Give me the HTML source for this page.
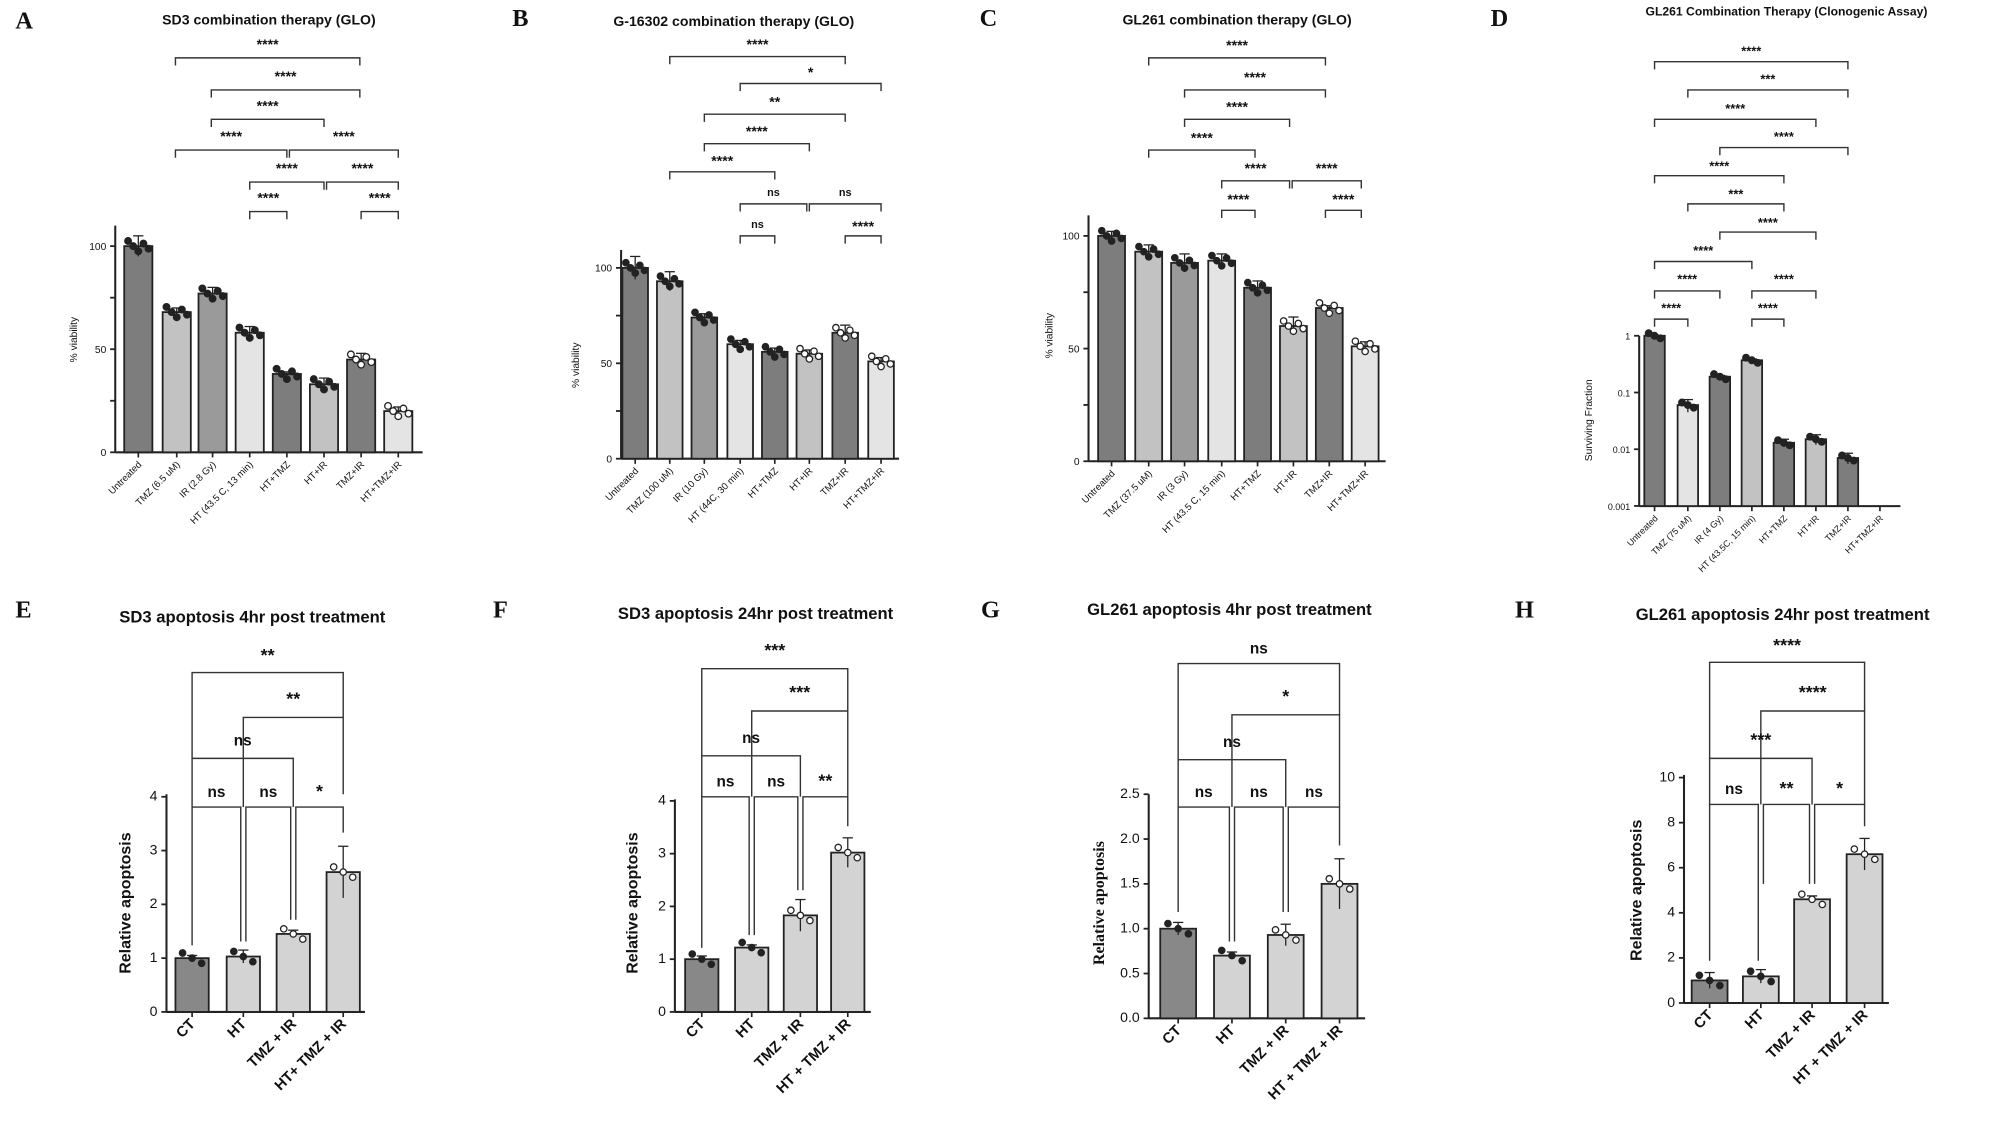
<!DOCTYPE html>
<html><head><meta charset="utf-8"><style>
html,body{margin:0;padding:0;background:#fff;}
svg{display:block;}
text{font-family:"Liberation Sans",Arial,sans-serif;fill:#111;}
.lab{font-family:"Liberation Serif",serif;font-weight:bold;font-size:19px;}
</style></head><body>
<svg id="s" width="2008" height="1130" viewBox="0 0 1568 882" xmlns="http://www.w3.org/2000/svg">
<rect width="1568" height="882" fill="#fff"/>
<text class="lab" x="12" y="22">A</text>
<text class="lab" x="400" y="20">B</text>
<text class="lab" x="765" y="20">C</text>
<text class="lab" x="1164" y="20">D</text>
<text class="lab" x="12" y="482">E</text>
<text class="lab" x="385" y="482">F</text>
<text class="lab" x="766" y="482">G</text>
<text class="lab" x="1183" y="482">H</text>
<text x="210" y="19" font-size="11" font-weight="bold" text-anchor="middle">SD3 combination therapy (GLO)</text>
<text x="573" y="20" font-size="11" font-weight="bold" text-anchor="middle">G-16302 combination therapy (GLO)</text>
<text x="966" y="19" font-size="11" font-weight="bold" text-anchor="middle">GL261 combination therapy (GLO)</text>
<text x="1395" y="12" font-size="9.5" font-weight="bold" text-anchor="middle">GL261 Combination Therapy (Clonogenic Assay)</text>
<text x="197" y="486" font-size="13" font-weight="bold" text-anchor="middle">SD3 apoptosis 4hr post treatment</text>
<text x="590" y="483" font-size="13" font-weight="bold" text-anchor="middle">SD3 apoptosis 24hr post treatment</text>
<text x="960" y="480" font-size="13" font-weight="bold" text-anchor="middle">GL261 apoptosis 4hr post treatment</text>
<text x="1392" y="484" font-size="13" font-weight="bold" text-anchor="middle">GL261 apoptosis 24hr post treatment</text>
<g id="g"></g>
</svg>
<script>
var g=document.getElementById('g'),out='';
function L(x1,y1,x2,y2,w){out+='<line x1="'+x1+'" y1="'+y1+'" x2="'+x2+'" y2="'+y2+'" stroke="#222" stroke-width="'+(w||1.2)+'"/>';}
function T(x,y,s,fs,anch,extra){out+='<text x="'+x+'" y="'+y+'" font-size="'+fs+'" text-anchor="'+(anch||'middle')+'" '+(extra||'')+'>'+s+'</text>';}
function br(x1,x2,y,s,fs,drop,ty,drop2){drop=drop||7;var d2=(drop2===undefined)?drop:drop2;out+='<path d="M'+x1+' '+(y+drop)+'V'+y+'H'+x2+'V'+(y+d2)+'" fill="none" stroke="#333" stroke-width="1.1"/>';T((x1+x2)/2,ty||(y-3),s,fs,'middle','font-weight="bold"');}
function panel(o){
 L(o.ax,o.yTop,o.ax,o.y0,1.6);L(o.ax,o.y0,o.xEnd,o.y0,1.6);
 o.ticks.forEach(function(t){var y=o.ymap(t[0]);L(o.ax-4,y,o.ax,y,1.4);if(t[1]!=='')T(o.ax-7,y+3,t[1],o.tfs,'end');});
 o.bars.forEach(function(b,i){var x=o.cx[i];L(x,o.y0,x,o.y0+4,1.3);
  if(b[0]!==null){var yt=o.ymap(b[0]);out+='<rect x="'+(x-o.bw/2)+'" y="'+yt+'" width="'+o.bw+'" height="'+(o.y0-yt)+'" fill="'+b[1]+'" stroke="#222" stroke-width="1.4"/>';
   var e=b[2]||0;if(e){var ye=o.ymap(b[0]+e),yl=o.ymap(Math.max(b[0]-e,0.0011));L(x,ye,x,yl,1);L(x-4,ye,x+4,ye,1);}
   for(var k=0;k<(o.np||5);k++){var dx=(k-(o.np||5)/2+0.5)*o.bw/((o.np||5)+0.5);var dy=((k*7)%5-2)*o.jit;out+='<circle cx="'+(x+dx)+'" cy="'+(yt+dy)+'" r="'+o.pr+'" fill="'+(b[3]||'#222')+'" stroke="#222" stroke-width="1"/>';}
  }
  var lab=o.labels[i];out+='<text x="'+(x+3)+'" y="'+(o.y0+10)+'" font-size="'+o.lfs+'" text-anchor="end" transform="rotate(-45 '+(x+3)+' '+(o.y0+10)+')" '+(o.lw||'')+'>'+lab+'</text>';
 });
 out+='<text x="'+o.ylx+'" y="'+o.yly+'" font-size="'+o.ylfs+'" text-anchor="middle" transform="rotate(-90 '+o.ylx+' '+o.yly+')" '+(o.ylst||'')+'>'+o.ylab+'</text>';
}
var D='#7d7d7d',M='#9a9a9a',Lt='#c2c2c2',VL='#e4e4e4';
function lin(y0,per){return function(v){return y0-v*per;};}
// A
var mA=lin(353,1.61);
panel({ax:90,yTop:176,y0:353,xEnd:330,ymap:mA,ticks:[[0,'0'],[25,''],[50,'50'],[75,''],[100,'100']],tfs:8,bw:22,
 cx:[108,138,166,195,224,253,282,311],bars:[[100,D,5],[68,Lt,2],[77,M,3],[58,VL,3],[38,D,1],[33,Lt,3],[45,D,3,'#fff'],[20,VL,2,'#fff']],
 labels:['Untreated','TMZ (6.5 uM)','IR (2.8 Gy)','HT (43.5 C, 13 min)','HT+TMZ','HT+IR','TMZ+IR','HT+TMZ+IR'],lfs:7.5,pr:2.6,jit:2,
 ylx:60,yly:265,ylfs:8,ylab:'% viability'});
br(137,281,45,'****',11,6,38);br(165,281,70,'****',11,6,63);br(165,253,93,'****',11,6,86);
br(137,224,117,'****',11,6,110);br(226,311,117,'****',11,6,110);
br(195,253,142,'****',11,6,135);br(255,311,142,'****',11,6,135);
br(195,224,165,'****',11,6,158);br(282,311,165,'****',11,6,158);
// B
var mB=lin(358,1.49);
panel({ax:485,yTop:195,y0:358,xEnd:702,ymap:mB,ticks:[[0,'0'],[25,''],[50,'50'],[75,''],[100,'100']],tfs:8,bw:20,
 cx:[496,523,550,578,605,632,660,688],bars:[[100,D,6],[93,Lt,5],[74,M,2],[60,VL,2],[56,D,2],[55,Lt,2,'#fff'],[66,D,4,'#fff'],[51,VL,2,'#fff']],
 labels:['Untreated','TMZ (100 uM)','IR (10 Gy)','HT (44C, 30 min)','HT+TMZ','HT+IR','TMZ+IR','HT+TMZ+IR'],lfs:7.5,pr:2.5,jit:2,
 ylx:452,yly:285,ylfs:8,ylab:'% viability'});
br(523,660,44,'****',11,6,38);br(578,688,65,'*',11,6,60);br(550,660,89,'**',11,6,83);br(550,632,112,'****',11,6,106);
br(523,605,134,'****',11,6,129);br(578,630,159,'ns',8.5,6,153);br(632,688,159,'ns',8.5,6,153);
br(578,605,184,'ns',8.5,6,178);br(660,688,184,'****',11,6,180);
// C
var mC=lin(360,1.76);
panel({ax:850,yTop:168,y0:360,xEnd:1082,ymap:mC,ticks:[[0,'0'],[25,''],[50,'50'],[75,''],[100,'100']],tfs:8,bw:21,
 cx:[868,897,925,954,982,1010,1038,1066],bars:[[100,D,2],[93,Lt,3],[88,M,4],[89,VL,3],[77,D,3],[60,Lt,4,'#fff'],[68,D,1,'#fff'],[51,VL,2,'#fff']],
 labels:['Untreated','TMZ (37.5 uM)','IR (3 Gy)','HT (43.5 C, 15 min)','HT+TMZ','HT+IR','TMZ+IR','HT+TMZ+IR'],lfs:7.5,pr:2.5,jit:2,
 ylx:822,yly:262,ylfs:8,ylab:'% viability'});
br(897,1035,45,'****',11,6,39);br(925,1035,70,'****',11,6,64);br(925,1007,93,'****',11,6,87);br(897,980,117,'****',11,6,111);
br(954,1007,141,'****',11,6,135);br(1009,1063,141,'****',11,6,135);br(954,980,164,'****',11,6,159);br(1035,1063,164,'****',11,6,159);
// D log
var mD=function(v){return 262-Math.log10(v)*44.3;};
panel({ax:1280,yTop:262,y0:395,xEnd:1484,ymap:mD,ticks:[[1,'1'],[0.1,'0.1'],[0.01,'0.01'],[0.001,'0.001']],tfs:7,bw:16,np:3,
 cx:[1292,1318,1343,1368,1393,1418,1443,1468],bars:[[1,D,0.02],[0.06,VL,0.015],[0.19,D,0.01],[0.37,Lt,0.02],[0.013,D,0.002],[0.015,Lt,0.003],[0.007,D,0.0015],[null,D]],
 labels:['Untreated','TMZ (75 uM)','IR (4 Gy)','HT (43.5C, 15 min)','HT+TMZ','HT+IR','TMZ+IR','HT+TMZ+IR'],lfs:7,pr:2.6,jit:1,
 ylx:1243,yly:328,ylfs:8,ylab:'Surviving Fraction'});
br(1292,1443,48,'****',10,6,43);br(1318,1443,70,'***',10,6,65);br(1292,1418,93,'****',10,6,88);br(1343,1443,115,'****',10,6,110);
br(1292,1393,137,'****',10,6,133);br(1318,1393,159,'***',10,6,155);br(1343,1418,181,'****',10,6,177);br(1292,1368,204,'****',10,6,199);
br(1292,1343,227,'****',10,6,221);br(1368,1418,227,'****',10,6,221);br(1292,1318,249,'****',10,6,244);br(1368,1393,249,'****',10,6,244);
// E
var D2='#888',L2='#d3d3d3';
panel({ax:130,yTop:620,y0:790,xEnd:285,ymap:lin(790,42),ticks:[[0,'0'],[1,'1'],[2,'2'],[3,'3'],[4,'4']],tfs:11,bw:26,np:3,
 cx:[150,190,229,268],bars:[[1,D2,0.05],[1.03,L2,0.12],[1.45,L2,0.07,'#fff'],[2.6,L2,0.48,'#fff']],labels:['CT','HT','TMZ + IR','HT+ TMZ + IR'],lfs:11.5,lw:'font-weight="bold"',pr:2.5,jit:2,
 ylx:102,yly:705,ylfs:12.5,ylab:'Relative apoptosis',ylst:'font-weight="bold"'});
br(150,268,525,'**',14,67,516,35);br(190,268,560,'**',14,70,550,60);br(150,229,592,'ns',12,38,582,38);
br(150,188,630,'ns',12,108,622,105);br(192,227,630,'ns',12,105,622,88);br(231,268,630,'*',14,88,622,20);
// F
panel({ax:527,yTop:624,y0:790,xEnd:680,ymap:lin(790,41.2),ticks:[[0,'0'],[1,'1'],[2,'2'],[3,'3'],[4,'4']],tfs:11,bw:26,np:3,
 cx:[548,587,625,662],bars:[[1,D2,0.06],[1.22,L2,0.05],[1.83,L2,0.3,'#fff'],[3.02,L2,0.28,'#fff']],labels:['CT','HT','TMZ + IR','HT + TMZ + IR'],lfs:11.5,lw:'font-weight="bold"',pr:2.5,jit:2,
 ylx:498,yly:705,ylfs:12.5,ylab:'Relative apoptosis',ylst:'font-weight="bold"'});
br(548,662,522,'***',14,68,512,33);br(587,662,555,'***',14,67,545,67);br(548,625,590,'ns',12,32,580,32);
br(548,585,622,'ns',12,118,614,108);br(589,623,622,'ns',12,108,614,73);br(627,662,622,'**',14,73,614,23);
// G
panel({ax:897,yTop:620,y0:795,xEnd:1066,ymap:lin(795,70),ticks:[[0,'0.0'],[0.5,'0.5'],[1,'1.0'],[1.5,'1.5'],[2,'2.0'],[2.5,'2.5']],tfs:11,bw:28,np:3,
 cx:[920,962,1004,1046],bars:[[1,D2,0.07],[0.7,L2,0.04],[0.93,L2,0.12,'#fff'],[1.5,L2,0.28,'#fff']],labels:['CT','HT','TMZ + IR','HT + TMZ + IR'],lfs:11.5,lw:'font-weight="bold"',pr:2.5,jit:2,
 ylx:862,yly:705,ylfs:12.5,ylab:'Relative apoptosis',ylst:'style="font-family:Liberation Serif,serif;font-weight:bold"'});
br(920,1046,518,'ns',12,75,510,40);br(962,1046,558,'*',14,72,548,72);br(920,1004,593,'ns',12,37,583,37);
br(920,960,630,'ns',12,82,622,105);br(964,1002,630,'ns',12,105,622,82);br(1006,1046,630,'ns',12,82,622,30);
// H
panel({ax:1315,yTop:605,y0:783,xEnd:1475,ymap:lin(783,17.6),ticks:[[0,'0'],[2,'2'],[4,'4'],[6,'6'],[8,'8'],[10,'10']],tfs:11,bw:28,np:3,
 cx:[1335,1375,1415,1456],bars:[[1,D2,0.35],[1.18,L2,0.3],[4.6,L2,0.15,'#fff'],[6.6,L2,0.7,'#fff']],labels:['CT','HT','TMZ + IR','HT + TMZ + IR'],lfs:11.5,lw:'font-weight="bold"',pr:2.5,jit:2,
 ylx:1282,yly:695,ylfs:12.5,ylab:'Relative apoptosis',ylst:'font-weight="bold"'});
br(1335,1456,517,'****',14,75,508,38);br(1375,1456,555,'****',14,73,545,73);br(1335,1415,592,'***',14,36,582,36);
br(1335,1373,628,'ns',12,122,620,122);br(1377,1413,628,'**',14,62,620,62);br(1417,1456,628,'*',14,62,620,17);
g.innerHTML=out;
</script>
</body></html>
